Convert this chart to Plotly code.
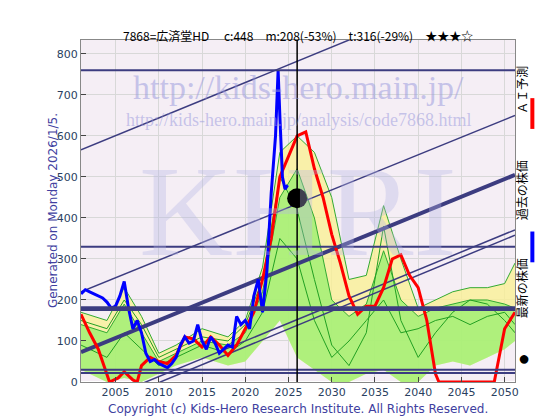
import plotly.graph_objects as go

# 実績株価
past_x = [2001, 2001.5, 2002, 2002.5, 2003, 2003.5, 2004, 2004.5, 2005, 2005.5, 2006, 2006.5,
          2007, 2007.5, 2008, 2008.5, 2009, 2009.5, 2010, 2010.5, 2011, 2011.5, 2012, 2012.5,
          2013, 2013.5, 2014, 2014.5, 2015, 2015.5, 2016, 2016.5, 2017, 2017.5, 2018, 2018.5,
          2019, 2019.5, 2020, 2020.5, 2021, 2021.5, 2022, 2022.5, 2023, 2023.5, 2023.8, 2024,
          2024.3, 2024.6, 2024.9]
past_y = [215, 225, 220, 215, 210, 205, 195, 180, 185, 210, 245, 180,
          130, 150, 120, 70, 50, 55, 45, 40, 35, 45, 60, 90,
          110, 95, 100, 140, 100, 80, 110, 95, 70, 80, 90, 85,
          160, 140, 150, 130, 210, 250, 170, 270, 460, 600, 760, 650,
          500, 470, 480]

# AI予測
ai_x = [2001, 2002, 2003, 2004, 2004.3, 2005.3, 2006, 2007, 2007.5, 2008, 2009, 2010, 2011,
        2012, 2013, 2014, 2015, 2016, 2017, 2018, 2019, 2020, 2021, 2022, 2023, 2024,
        2025, 2026, 2027, 2028, 2029, 2030, 2031, 2032, 2033, 2034, 2035, 2036, 2037,
        2038, 2039, 2040, 2041, 2042, 2042.4, 2048.8, 2050, 2051.2]
ai_y = [165, 120, 80, 20, 0, 10, 25, 5, 0, 40, 60, 50, 45,
        65, 110, 105, 85, 110, 90, 65, 90, 130, 170, 250, 350, 500,
        550, 600, 610, 520, 450, 360, 290, 210, 165, 185, 185, 230, 300,
        310, 260, 230, 150, 20, 0, 0, 130, 170]

# 予測バンド
band_x = [2001, 2004, 2006, 2008, 2010, 2012, 2015, 2018, 2020, 2022, 2024, 2026, 2028,
          2030, 2032, 2034, 2036, 2038, 2040, 2042, 2044, 2046, 2048, 2050, 2051.2]
band_hi = [170, 150, 230, 160, 70, 90, 130, 110, 150, 280, 560, 600, 560,
           450, 250, 260, 430, 300, 180, 200, 220, 230, 230, 240, 290]
band_mid = [140, 120, 190, 120, 50, 70, 100, 90, 120, 220, 450, 520, 400,
            200, 160, 190, 320, 200, 160, 180, 190, 200, 200, 190, 180]
band_lo = [30, 0, 10, 0, 20, 40, 60, 40, 50, 100, 150, 60, 30,
           0, 0, 20, 30, 0, 0, 40, 50, 40, 60, 80, 100]
# 個別予測線
sim_a = [150, 130, 200, 140, 60, 80, 110, 100, 140, 250, 500, 420, 250,
         90, 40, 120, 380, 150, 60, 120, 170, 200, 190, 150, 120]
sim_b = [90, 60, 120, 80, 40, 60, 90, 70, 100, 170, 350, 300, 150,
         60, 100, 150, 200, 120, 130, 150, 160, 140, 160, 170, 140]

# 水平線
h_levels = [760, 330, 182, 178, 30, 22]
# 斜めの線 (2001年の値, 2051.2年の値)
diag_lines = [(566, 1000), (220, 650), (73, 505), (-65, 371), (-80, 358)]

last_x = 2026
last_y = 448

fig = go.Figure()

fig.add_trace(go.Scatter(x=band_x, y=band_lo, mode="lines", line=dict(width=0), showlegend=False))
fig.add_trace(go.Scatter(x=band_x, y=band_hi, mode="lines", fill="tonexty",
                         fillcolor="rgba(250,240,150,0.8)", line=dict(color="#33aa33", width=1),
                         showlegend=False))
fig.add_trace(go.Scatter(x=band_x, y=band_lo, mode="lines", line=dict(width=0), showlegend=False))
fig.add_trace(go.Scatter(x=band_x, y=band_mid, mode="lines", fill="tonexty",
                         fillcolor="rgba(150,240,110,0.75)", line=dict(color="#33aa33", width=1),
                         showlegend=False))
for sim in (sim_a, sim_b):
    fig.add_trace(go.Scatter(x=band_x, y=sim, mode="lines", line=dict(color="#22a022", width=1),
                             showlegend=False))

for y in h_levels:
    fig.add_hline(y=y, line=dict(color="#3c3c80", width=4 if y == 178 else 2))
for y0, y1 in diag_lines:
    fig.add_trace(go.Scatter(x=[2001, 2051.2], y=[y0, y1], mode="lines",
                             line=dict(color="#3c3c80", width=4 if y0 == 73 else 1.5),
                             showlegend=False))
fig.add_vline(x=last_x, line=dict(color="black", width=1.5))

fig.add_trace(go.Scatter(x=ai_x, y=ai_y, mode="lines", line=dict(color="red", width=3),
                         showlegend=False))
fig.add_trace(go.Scatter(x=past_x, y=past_y, mode="lines", line=dict(color="blue", width=3),
                         showlegend=False))
fig.add_trace(go.Scatter(x=[last_x], y=[last_y], mode="markers",
                         marker=dict(color="black", size=20), showlegend=False))

# watermarks
fig.add_annotation(x=0.5, y=0.92, xref="paper", yref="paper", showarrow=False,
                   text="http://kids-hero.main.jp/",
                   font=dict(family="Liberation Serif", size=34, color="rgba(150,150,220,0.5)"))
fig.add_annotation(x=0.5, y=0.8, xref="paper", yref="paper", showarrow=False,
                   text="http://kids-hero.main.jp/analysis/code7868.html",
                   font=dict(family="Liberation Serif", size=18, color="rgba(150,150,220,0.5)"))
fig.add_annotation(x=0.5, y=0.5, xref="paper", yref="paper", showarrow=False,
                   text="KHRI",
                   font=dict(family="Liberation Serif", size=130, color="rgba(180,180,230,0.35)"))

fig.add_annotation(x=0.5, y=1.045, xref="paper", yref="paper", showarrow=False,
                   text="7868=広済堂HD　 c:448　m:208(-53%)　t:316(-29%)　★★★☆",
                   font=dict(family="Noto Sans CJK JP", size=12, color="black"))
fig.add_annotation(x=-0.085, y=0.5, xref="paper", yref="paper", showarrow=False, textangle=-90,
                   text="Generated on Monday 2026/1/5.",
                   font=dict(family="DejaVu Sans", size=12, color="#4040a0"))
fig.add_annotation(x=0.5, y=-0.105, xref="paper", yref="paper", showarrow=False,
                   text="Copyright (c) Kids-Hero Research Institute. All Rights Reserved.",
                   font=dict(family="DejaVu Sans", size=12, color="#4040a0"))

legend_items = [("ＡＩ予測", 0.93), ("過去の株価", 0.56), ("最新の株価", 0.18)]
for label, yy in legend_items:
    fig.add_annotation(x=1.04, y=yy, xref="paper", yref="paper", showarrow=False,
                       textangle=-90, text=label,
                       font=dict(family="Noto Sans CJK JP", size=12, color="black"))
fig.add_shape(type="line", xref="paper", yref="paper", x0=1.04, x1=1.04, y0=0.74, y1=0.83,
              line=dict(color="red", width=4))
fig.add_shape(type="line", xref="paper", yref="paper", x0=1.04, x1=1.04, y0=0.35, y1=0.44,
              line=dict(color="blue", width=4))
fig.add_annotation(x=1.04, y=0.025, xref="paper", yref="paper", showarrow=False,
                   text="●", font=dict(size=20, color="black"))

fig.update_xaxes(range=[2001, 2051.2], tickvals=[2005, 2010, 2015, 2020, 2025, 2030, 2035, 2040, 2045, 2050],
                 showgrid=True, gridcolor="#d8d8d8", ticks="inside", mirror=True,
                 showline=True, linecolor="#888", tickfont=dict(size=11, family="DejaVu Sans"))
fig.update_yaxes(range=[0, 834], dtick=100, showgrid=True, gridcolor="#d8d8d8", ticks="inside",
                 mirror=True, showline=True, linecolor="#888", tickfont=dict(size=11, family="DejaVu Sans"))
fig.update_layout(width=560, height=420, margin=dict(l=73, r=53, t=32, b=46),
                  plot_bgcolor="#f5eef5", paper_bgcolor="white")

fig.write_html("out.html")
